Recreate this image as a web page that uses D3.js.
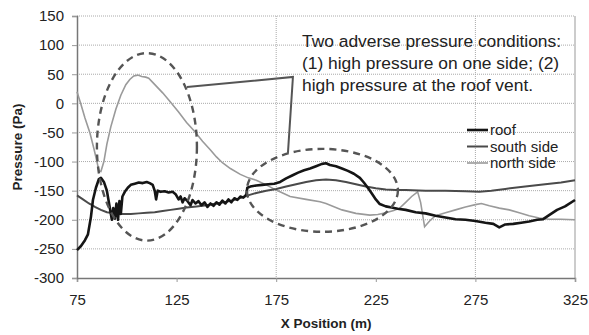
<!DOCTYPE html>
<html>
<head>
<meta charset="utf-8">
<script src="https://cdn.jsdelivr.net/npm/d3@7"></script>
<style>
  body { margin: 0; background: #fff; }
  svg { display: block; font-family: "Liberation Sans", Arial, sans-serif; }
</style>
</head>
<body>
<div id="chart"></div>
<script>
        // series: [x position (m), pressure (Pa)]
        const roof = [
            [75, -252], [77, -245], [79, -235], [80.5, -225], [82, -195], [83, -166], [84.5, -145],
            [86, -130], [87, -128], [88.5, -135], [90, -150], [91, -170], [92.5, -200], [93.2, -180],
            [94, -198], [94.8, -172], [95.6, -200], [96.3, -168], [97, -190], [97.8, -160], [99, -152],
            [100.5, -145], [102, -140], [104, -138], [106, -136], [108, -137], [110, -135], [111.5, -137],
            [113, -140], [114, -150], [114.7, -165], [115.5, -150], [117, -152], [119, -151], [121, -153],
            [123, -152], [124.5, -156], [126, -165], [127, -160], [128, -170], [129, -163], [130.5, -168],
            [132, -175], [133, -166], [134.5, -172], [136, -168], [137.5, -175], [139, -170], [140.5, -178],
            [142, -172], [143.5, -176], [145, -170], [146.5, -174], [148, -167], [149.5, -172], [151, -165],
            [152.5, -170], [154, -163], [155.5, -166], [157, -160], [158.5, -162], [160, -157], [160.5, -145],
            [162, -143], [165, -141], [168, -140], [171, -139], [174, -138], [177, -135], [180, -129],
            [183, -124], [186, -119], [189, -115], [192, -112], [195, -108], [198, -104], [200, -103],
            [202, -106], [205, -108], [208, -112], [211, -116], [214, -121], [217, -128], [219, -136],
            [221, -145], [223, -155], [225, -165], [227, -173], [230, -177], [233, -179], [236, -181],
            [240, -183], [245, -187], [250, -189], [255, -193], [260, -196], [265, -199], [270, -200],
            [275, -202], [280, -205], [284, -207], [287, -213], [290, -208], [294, -207], [298, -205],
            [302, -203], [306, -200], [309, -199], [312, -192], [316, -183], [320, -177], [325, -166]
        ];

        const southSide = [
            [75, -158], [78, -165], [81, -172], [84, -178], [87, -183], [90, -187], [94, -189], [98, -190],
            [102, -190], [106, -189], [110, -188], [114, -187], [118, -185], [122, -183], [126, -181],
            [130, -179], [135, -177], [140, -175], [145, -172], [150, -169], [155, -165], [160, -159],
            [165, -154], [170, -150], [175, -147], [180, -143], [185, -139], [190, -135], [195, -132],
            [200, -131], [205, -132], [210, -135], [215, -139], [220, -143], [225, -146], [230, -148],
            [235, -149], [240, -149], [250, -150], [260, -150], [270, -151], [277, -152], [283, -150],
            [290, -147], [300, -143], [310, -139], [318, -136], [325, -132]
        ];

        const northSide = [
            [75, 20], [77, -2], [79, -25], [81.5, -51], [83.5, -78], [85, -100], [86, -116], [87, -117],
            [88.5, -100], [90, -70], [92, -40], [94.5, -10], [97, 14], [99.5, 32], [101.5, 41], [103.5, 47],
            [105.5, 48.5], [107.5, 46], [109.5, 45], [111, 43], [113, 36], [118, 18], [122, 2], [126, -15],
            [130, -33], [134, -48], [138, -65], [142, -80], [145, -92], [148, -102], [152, -112], [157, -122],
            [161, -128], [165, -132], [170, -140], [175, -149], [182, -160], [190, -165], [197, -169],
            [200, -172], [208, -183], [215, -189], [222, -192], [226, -191], [230, -188], [234, -184],
            [237, -180], [240, -170], [243, -160], [246, -152], [247.5, -170], [249.5, -212], [252, -202],
            [255, -193], [260, -188], [265, -183], [270, -178], [275, -174], [278, -172], [282, -176],
            [287, -180], [292, -183], [297, -188], [302, -193], [307, -197], [312, -199], [318, -199],
            [325, -200]
        ];

        const xTicks = [75, 125, 175, 225, 275, 325];
        const yTicks = [150, 100, 50, 0, -50, -100, -150, -200, -250, -300];
        const xGrid = [175, 275];

        const seriesNames = ["roof", "south side", "north side"];
        const noteLines = [
            "Two adverse pressure conditions:",
            "(1) high pressure on one side; (2)",
            "high pressure at the roof vent."
        ];

        // highlight ellipses [cx, cy, rx, ry] in data units, and the callout polyline
        const ellipses = [
            [110.1, -74.8, 25.1, 161],
            [198.2, -149.4, 37.9, 71.2]
        ];
        const callout = [[130.2, 28], [183.4, 45.3], [180.9, -85]];

        const margin = { top: 16, right: 14, bottom: 57, left: 77 };
        const W = 589, H = 335;
        const width = W - margin.left - margin.right;
        const height = H - margin.top - margin.bottom;

        const svg = d3.select("#chart").append("svg")
            .attr("width", W)
            .attr("height", H);

        const g = svg.append("g")
            .attr("transform", `translate(${margin.left},${margin.top})`);

        const x = d3.scaleLinear().domain([75, 325]).range([0, width]);
        const y = d3.scaleLinear().domain([-300, 150]).range([height, 0]);

        // gridlines
        g.selectAll(".hgrid")
            .data(yTicks.filter(d => d > -300))
            .enter().append("line")
            .attr("x1", 0).attr("x2", width)
            .attr("y1", d => y(d)).attr("y2", d => y(d))
            .style("stroke", "#aaa")
            .style("stroke-width", 1)
            .style("stroke-dasharray", "1,1");

        g.selectAll(".vgrid")
            .data(xGrid)
            .enter().append("line")
            .attr("x1", d => x(d)).attr("x2", d => x(d))
            .attr("y1", 0).attr("y2", height)
            .style("stroke", "#aaa")
            .style("stroke-width", 1)
            .style("stroke-dasharray", "1,1");

        g.append("line")
            .attr("x1", width).attr("x2", width)
            .attr("y1", 0).attr("y2", height)
            .style("stroke", "#999");

        // axes (plain hyphen minus, like the original)
        const xAxis = g.append("g")
            .attr("transform", `translate(0,${height})`)
            .call(d3.axisBottom(x).tickValues(xTicks).tickFormat(d => String(d)).tickSize(4).tickPadding(12));
        const yAxis = g.append("g")
            .call(d3.axisLeft(y).tickValues(yTicks).tickFormat(d => String(d)).tickSize(5).tickPadding(8));

        [xAxis, yAxis].forEach(a => {
            a.select(".domain").style("stroke", "#777").style("stroke-width", 1.5);
            a.selectAll(".tick line").style("stroke", "#999");
            a.selectAll("text")
                .style("font-family", "Liberation Sans, Arial, sans-serif")
                .style("font-size", "15px")
                .style("fill", "#222");
        });

        // series
        const line = d3.line().x(d => x(d[0])).y(d => y(d[1]));

        g.append("path").datum(northSide)
            .attr("d", line)
            .style("fill", "none")
            .style("stroke", "#9a9a9a")
            .style("stroke-width", 1.6);

        g.append("path").datum(southSide)
            .attr("d", line)
            .style("fill", "none")
            .style("stroke", "#4a4a4a")
            .style("stroke-width", 2);

        g.append("path").datum(roof)
            .attr("d", line)
            .style("fill", "none")
            .style("stroke", "#151515")
            .style("stroke-width", 2.6)
            .style("stroke-linejoin", "round");

        // dashed ellipses
        g.selectAll(".ring")
            .data(ellipses)
            .enter().append("ellipse")
            .attr("cx", d => x(d[0]))
            .attr("cy", d => y(d[1]))
            .attr("rx", d => x(d[0] + d[2]) - x(d[0]))
            .attr("ry", d => y(d[1] - d[3]) - y(d[1]))
            .style("fill", "none")
            .style("stroke", "#555")
            .style("stroke-width", 2.4)
            .style("stroke-dasharray", "7,5");

        g.append("path").datum(callout)
            .attr("d", line)
            .style("fill", "none")
            .style("stroke", "#555")
            .style("stroke-width", 2);

        // annotation
        const note = svg.append("text")
            .attr("x", 302)
            .attr("y", 47)
            .style("font-size", "17.4px")
            .style("fill", "#222");
        note.selectAll("tspan")
            .data(noteLines)
            .enter().append("tspan")
            .attr("x", 302)
            .attr("dy", (d, i) => i === 0 ? 0 : 22)
            .text(d => d);

        // legend
        const legendColors = ["#151515", "#4a4a4a", "#9a9a9a"];
        const legendWidths = [2.6, 2, 1.6];
        const legend = svg.append("g").attr("transform", "translate(467,130)");
        seriesNames.forEach((name, i) => {
            legend.append("line")
                .attr("x1", 0).attr("x2", 21)
                .attr("y1", i * 16.5).attr("y2", i * 16.5)
                .style("stroke", legendColors[i])
                .style("stroke-width", legendWidths[i]);
            legend.append("text")
                .attr("x", 23)
                .attr("y", i * 16.5)
                .attr("dy", "0.35em")
                .style("font-size", "15px")
                .style("fill", "#222")
                .text(name);
        });

        // axis titles
        svg.append("text")
            .attr("x", margin.left + width / 2)
            .attr("y", 328)
            .style("text-anchor", "middle")
            .style("font-size", "13.5px")
            .style("font-weight", "bold")
            .style("fill", "#222")
            .text("X Position (m)");

        svg.append("text")
            .attr("transform", `translate(22,${margin.top + height / 2}) rotate(-90)`)
            .style("text-anchor", "middle")
            .style("font-size", "13.5px")
            .style("font-weight", "bold")
            .style("fill", "#222")
            .text("Pressure (Pa)");
</script>
</body>
</html>
